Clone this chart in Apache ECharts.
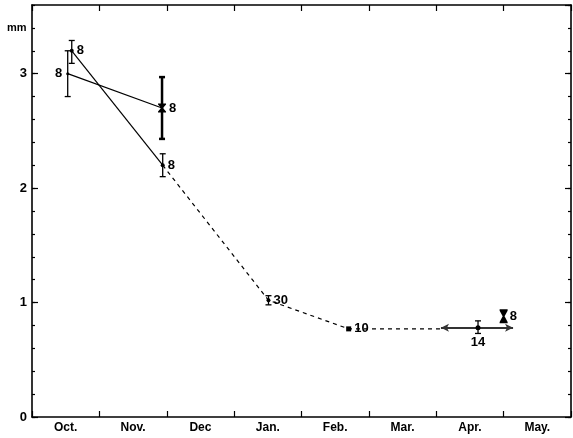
<!DOCTYPE html>
<html>
<head>
<meta charset="utf-8">
<script src="https://cdn.jsdelivr.net/npm/echarts@6/dist/echarts.min.js"></script>
<style>
html,body{margin:0;padding:0;background:#fff;}
#c{width:573px;height:438px;}
</style>
</head>
<body>
<div id="c"></div>
<script>
// ---- data (x in months from start of October, y in mm) ----
const months = ['Oct.', 'Nov.', 'Dec', 'Jan.', 'Feb.', 'Mar.', 'Apr.', 'May.'];
const yTickLabels = ['0', '1', '2', '3'];
const lineA = [[0.53, 3.0], [1.93, 2.70]];
const lineB = [[0.59, 3.2], [1.94, 2.2]];
const dashedTrend = [[1.94, 2.2], [3.51, 1.02], [4.70, 0.77], [6.07, 0.77]];
const errorBars = [[0.53, 2.8, 3.2], [0.59, 3.09, 3.29], [1.94, 2.10, 2.30], [3.51, 0.98, 1.06], [6.62, 0.73, 0.84]];
const errorBarsThick = [[1.93, 2.43, 2.97]];
const dotPoints = [[0.59, 3.2], [1.94, 2.2], [3.51, 1.02]];
const dotLabels = ['8', '8', '30'];
const leftLabelPoints = [[0.53, 3.0]];
const leftLabels = ['8'];
const aprilPoint = [[6.62, 0.78]];
const aprilLabels = ['14'];
const squarePoints = [[4.70, 0.77]];
const squareLabels = ['10'];
const hourglassSmall = [[1.93, 2.70]];
const hourglassSmallLabels = ['8'];
const hourglassLarge = [[7.00, 0.88]];
const hourglassLargeLabels = ['8'];
const aprilArrows = [[6.62, 6.07, 0.78], [6.62, 7.14, 0.78]];
const unitLabel = 'mm';
const unitLabelValue = 3.4;

const FONT = 'Liberation Sans, Arial, sans-serif';
const chart = echarts.init(document.getElementById('c'), null, {renderer: 'canvas'});

const labelStyle = (pos) => ({show: true, position: pos, color: '#000', fontSize: 13, fontWeight: 'bold',
  fontFamily: FONT, distance: 3, textBorderWidth: 0, opacity: 1});
const hourglass = 'path://M0,0 L10,0 L10,1 L6.2,5 L10,9 L10,10 L0,10 L0,9 L3.8,5 L0,1 Z';
const markStyle = {color: '#000', opacity: 1};

const axisLineStyle = {show: true, onZero: false, lineStyle: {color: '#000', width: 1.6}};

function errorRender(width) {
  return function (params, api) {
    const x = api.value(0), lo = api.value(1), hi = api.value(2);
    const a = api.coord([x, lo]), b = api.coord([x, hi]);
    const cap = 3;
    const st = {stroke: '#000', lineWidth: width};
    return {
      type: 'group',
      children: [
        {type: 'line', shape: {x1: a[0], y1: a[1], x2: b[0], y2: b[1]}, style: st},
        {type: 'line', shape: {x1: a[0] - cap, y1: a[1], x2: a[0] + cap, y2: a[1]}, style: st},
        {type: 'line', shape: {x1: b[0] - cap, y1: b[1], x2: b[0] + cap, y2: b[1]}, style: st}
      ]
    };
  };
}

const option = {
  animation: false,
  backgroundColor: '#fff',
  grid: {left: 32, right: 2, top: 5, bottom: 21, containLabel: false},
  xAxis: [
    {type: 'category', data: months, position: 'bottom', boundaryGap: true,
     axisLine: axisLineStyle,
     axisTick: {show: true, inside: true, length: 6, lineStyle: {color: '#000', width: 1.2}},
     axisLabel: {color: '#000', fontSize: 12, fontWeight: 'bold', fontFamily: FONT, margin: 5},
     splitLine: {show: false}},
    {type: 'category', data: months, position: 'top', boundaryGap: true,
     axisLine: axisLineStyle,
     axisTick: {show: true, inside: true, length: 6, lineStyle: {color: '#000', width: 1.2}},
     axisLabel: {show: false}, splitLine: {show: false}},
    {type: 'value', min: 0, max: 8, show: false, position: 'bottom', axisLine: {onZero: false}}
  ],
  yAxis: [
    {type: 'value', min: 0, max: 3.6, interval: 1, position: 'left',
     axisLine: axisLineStyle,
     axisTick: {show: true, inside: true, length: 6, lineStyle: {color: '#000', width: 1.2}},
     axisLabel: {color: '#000', fontSize: 13, fontWeight: 'bold', fontFamily: FONT, margin: 5,
                 showMaxLabel: false,
                 formatter: (v) => yTickLabels.indexOf(String(v)) >= 0 ? String(v) : ''},
     splitLine: {show: false}},
    {type: 'value', min: 0, max: 3.6, interval: 0.2, position: 'left',
     axisLine: {show: false, onZero: false},
     axisTick: {show: true, inside: true, length: 3, lineStyle: {color: '#000', width: 1.2}},
     axisLabel: {show: false}, splitLine: {show: false}},
    {type: 'value', min: 0, max: 3.6, interval: 1, position: 'right',
     axisLine: axisLineStyle,
     axisTick: {show: true, inside: true, length: 6, lineStyle: {color: '#000', width: 1.2}},
     axisLabel: {show: false}, splitLine: {show: false}},
    {type: 'value', min: 0, max: 3.6, interval: 0.2, position: 'right',
     axisLine: {show: false, onZero: false},
     axisTick: {show: true, inside: true, length: 3, lineStyle: {color: '#000', width: 1.2}},
     axisLabel: {show: false}, splitLine: {show: false}}
  ],
  series: [
    {type: 'line', xAxisIndex: 2, yAxisIndex: 0, data: lineA, symbol: 'none',
     lineStyle: {color: '#000', width: 1.2}},
    {type: 'line', xAxisIndex: 2, yAxisIndex: 0, data: lineB, symbol: 'none',
     lineStyle: {color: '#000', width: 1.2}},
    {type: 'line', xAxisIndex: 2, yAxisIndex: 0, data: dashedTrend, symbol: 'none',
     lineStyle: {color: '#000', width: 1.2, type: [4, 4]}},
    {type: 'line', xAxisIndex: 2, yAxisIndex: 0, data: [], symbol: 'none',
     markLine: {silent: true, symbol: ['none', 'arrow'], symbolSize: [6, 8],
       label: {show: false},
       lineStyle: {color: '#333', width: 1.8, type: 'solid'},
       data: aprilArrows.map(a => [{coord: [a[0], a[2]]}, {coord: [a[1], a[2]]}])}},
    {type: 'custom', xAxisIndex: 2, yAxisIndex: 0, data: errorBars, renderItem: errorRender(1.3),
     encode: {x: 0, y: [1, 2]}, z: 5},
    {type: 'custom', xAxisIndex: 2, yAxisIndex: 0, data: errorBarsThick, renderItem: errorRender(2.5),
     encode: {x: 0, y: [1, 2]}, z: 5},
    {type: 'scatter', xAxisIndex: 2, yAxisIndex: 0, data: dotPoints, symbol: 'circle', symbolSize: 4,
     itemStyle: markStyle, z: 6,
     label: Object.assign(labelStyle('right'), {formatter: p => dotLabels[p.dataIndex]})},
    {type: 'scatter', xAxisIndex: 2, yAxisIndex: 0, data: leftLabelPoints, symbol: 'circle', symbolSize: 3,
     itemStyle: markStyle, z: 6,
     label: Object.assign(labelStyle('left'), {formatter: p => leftLabels[p.dataIndex], distance: 4})},
    {type: 'scatter', xAxisIndex: 2, yAxisIndex: 0, data: aprilPoint, symbol: 'circle', symbolSize: 5,
     itemStyle: markStyle, z: 6,
     label: Object.assign(labelStyle('bottom'), {formatter: p => aprilLabels[p.dataIndex], distance: 6})},
    {type: 'scatter', xAxisIndex: 2, yAxisIndex: 0, data: squarePoints, symbol: 'rect', symbolSize: 5,
     itemStyle: markStyle, z: 6,
     label: Object.assign(labelStyle('right'), {formatter: p => squareLabels[p.dataIndex]})},
    {type: 'scatter', xAxisIndex: 2, yAxisIndex: 0, data: hourglassSmall, symbol: hourglass, symbolSize: [8, 9],
     itemStyle: markStyle, z: 6,
     label: Object.assign(labelStyle('right'), {formatter: p => hourglassSmallLabels[p.dataIndex]})},
    {type: 'scatter', xAxisIndex: 2, yAxisIndex: 0, data: hourglassLarge, symbol: hourglass, symbolSize: [8, 14],
     itemStyle: markStyle, z: 6,
     label: Object.assign(labelStyle('right'), {formatter: p => hourglassLargeLabels[p.dataIndex], distance: 2})}
  ]
};
chart.setOption(option);

const unitY = chart.convertToPixel({yAxisIndex: 0}, unitLabelValue);
chart.setOption({
  graphic: [{type: 'text', left: 7, top: unitY - 5,
    style: {text: unitLabel, fill: '#000', font: 'bold 11px ' + FONT}}]
});
</script>
</body>
</html>
